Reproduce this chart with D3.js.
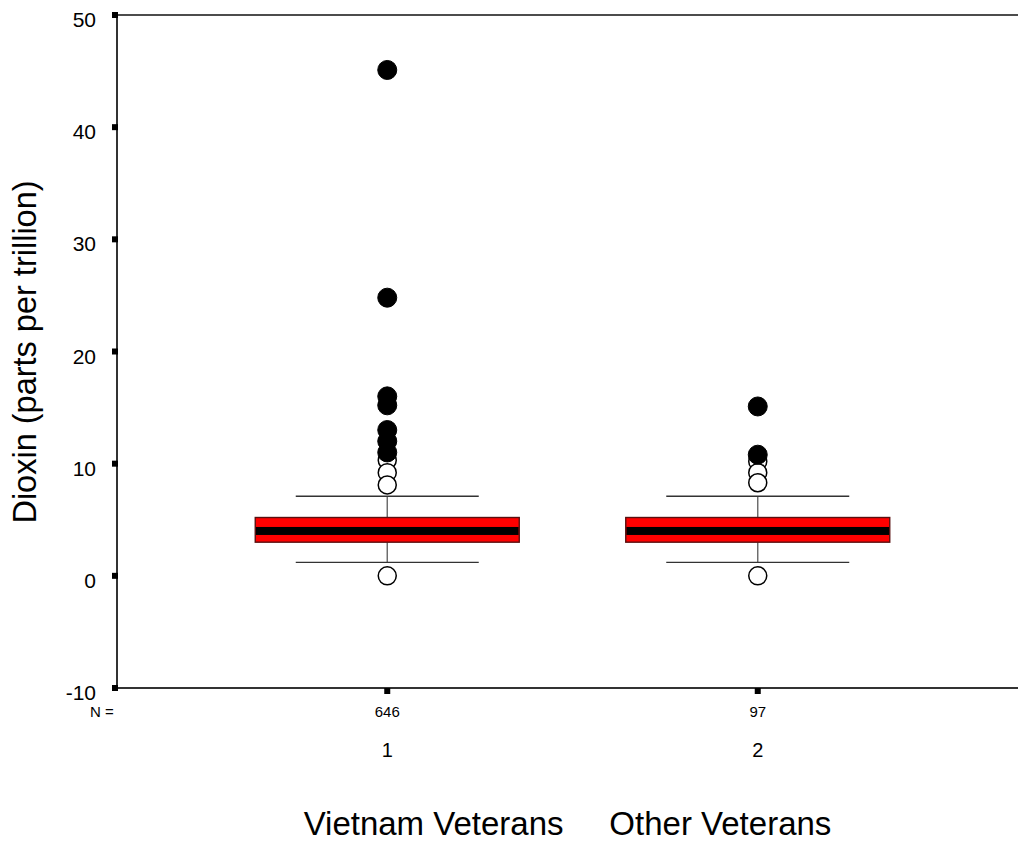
<!DOCTYPE html>
<html>
<head>
<meta charset="utf-8">
<script src="https://cdn.jsdelivr.net/npm/d3@7"></script>
<style>
  html, body { margin: 0; padding: 0; background: #fff; }
  svg { display: block; font-family: Arial, "Liberation Sans", sans-serif; }
</style>
</head>
<body>
<svg id="chart" width="1018" height="844"></svg>
<script>
// Group summaries
const groups = ["1", "2"];
const groupNames = ["Vietnam Veterans", "Other Veterans"];
const counts = [646, 97];
const q1 = [3.0, 3.0];
const medians = [4.0, 4.0];
const q3 = [5.2, 5.2];
const whiskerLow = [1.2, 1.2];
const whiskerHigh = [7.1, 7.1];
// Outliers (open circles) and extremes (filled circles)
const outliers = [[10.3, 9.2, 8.1, 0.0], [10.2, 9.2, 8.3, 0.0]];
const extremes = [[45.1, 24.8, 16.0, 15.2, 13.0, 12.0, 11.0], [15.1, 10.8]];
const yTicks = [-10, 0, 10, 20, 30, 40, 50];

(function () {
  const svg = d3.select("#chart");
  const plotLeft = 117, plotRight = 1018, plotTop = 15, plotBottom = 688;

  const y = d3.scaleLinear().domain([-10, 50]).range([plotBottom, plotTop]);
  const x = d3.scaleBand().domain(groups).range([202, 943]);
  const boxW = 264, capW = 183;

  // frame
  svg.append("line").attr("x1", plotLeft).attr("x2", plotRight).attr("y1", plotTop).attr("y2", plotTop)
    .attr("stroke", "#111").attr("stroke-width", 1.6);
  svg.append("line").attr("x1", plotLeft).attr("x2", plotRight).attr("y1", plotBottom).attr("y2", plotBottom)
    .attr("stroke", "#333").attr("stroke-width", 2);
  svg.append("line").attr("x1", plotLeft).attr("x2", plotLeft).attr("y1", plotTop).attr("y2", plotBottom)
    .attr("stroke", "#333").attr("stroke-width", 2);

  // y ticks: square markers + labels
  const yt = svg.append("g");
  yt.selectAll("rect").data(yTicks).join("rect")
    .attr("x", plotLeft - 5).attr("y", d => y(d) - 3).attr("width", 6).attr("height", 6).attr("fill", "#000");
  yt.selectAll("text").data(yTicks).join("text")
    .attr("x", 96).attr("y", d => y(d) + 12).attr("text-anchor", "end")
    .attr("font-size", 21).attr("fill", "#000").text(d => d);

  // y title
  svg.append("text")
    .attr("transform", `translate(36,352) rotate(-90)`)
    .attr("text-anchor", "middle").attr("font-size", 32.5).attr("fill", "#000")
    .text("Dioxin (parts per trillion)");

  // boxes
  groups.forEach((g, i) => {
    const cx = x(g) + x.bandwidth() / 2;
    const b = svg.append("g");
    // whisker stems
    b.append("line").attr("x1", cx).attr("x2", cx).attr("y1", y(whiskerHigh[i])).attr("y2", y(q3[i]))
      .attr("stroke", "#666").attr("stroke-width", 1.4);
    b.append("line").attr("x1", cx).attr("x2", cx).attr("y1", y(q1[i])).attr("y2", y(whiskerLow[i]))
      .attr("stroke", "#666").attr("stroke-width", 1.4);
    // caps
    [whiskerHigh[i], whiskerLow[i]].forEach(v => {
      b.append("line").attr("x1", cx - capW / 2).attr("x2", cx + capW / 2).attr("y1", y(v)).attr("y2", y(v))
        .attr("stroke", "#333").attr("stroke-width", 1.4);
    });
    // box
    b.append("rect").attr("x", cx - boxW / 2).attr("y", y(q3[i])).attr("width", boxW)
      .attr("height", y(q1[i]) - y(q3[i])).attr("fill", "#ff0000").attr("stroke", "#5a1010").attr("stroke-width", 1.4);
    // median band
    b.append("rect").attr("x", cx - boxW / 2 + 0.7).attr("y", y(medians[i]) - 4).attr("width", boxW - 1.4)
      .attr("height", 8).attr("fill", "#000");

    // outliers (open)
    b.selectAll("circle.out").data(outliers[i]).join("circle").attr("class", "out")
      .attr("cx", cx).attr("cy", d => y(d)).attr("r", 9)
      .attr("fill", "#fff").attr("stroke", "#000").attr("stroke-width", 1.5);
    // extremes (filled)
    b.selectAll("circle.ext").data(extremes[i]).join("circle").attr("class", "ext")
      .attr("cx", cx).attr("cy", d => y(d)).attr("r", 9.5)
      .attr("fill", "#000").attr("stroke", "#000").attr("stroke-width", 1);

    // x tick marker
    svg.append("rect").attr("x", cx - 3).attr("y", plotBottom).attr("width", 6).attr("height", 6).attr("fill", "#000");
    // counts
    svg.append("text").attr("x", cx).attr("y", 717).attr("text-anchor", "middle")
      .attr("font-size", 15).attr("fill", "#000").text(counts[i]);
    // group label
    svg.append("text").attr("x", cx).attr("y", 757).attr("text-anchor", "middle")
      .attr("font-size", 20).attr("fill", "#000").text(g);
  });

  svg.append("text").attr("x", 90).attr("y", 717).attr("text-anchor", "start")
    .attr("font-size", 15).attr("fill", "#000").text("N =");

  // category title line
  svg.append("text").attr("x", (plotLeft + plotRight) / 2).attr("y", 835).attr("text-anchor", "middle")
    .attr("font-size", 33).attr("fill", "#000").style("white-space", "pre")
    .text(groupNames[0] + "     " + groupNames[1]);
})();
</script>
</body>
</html>
